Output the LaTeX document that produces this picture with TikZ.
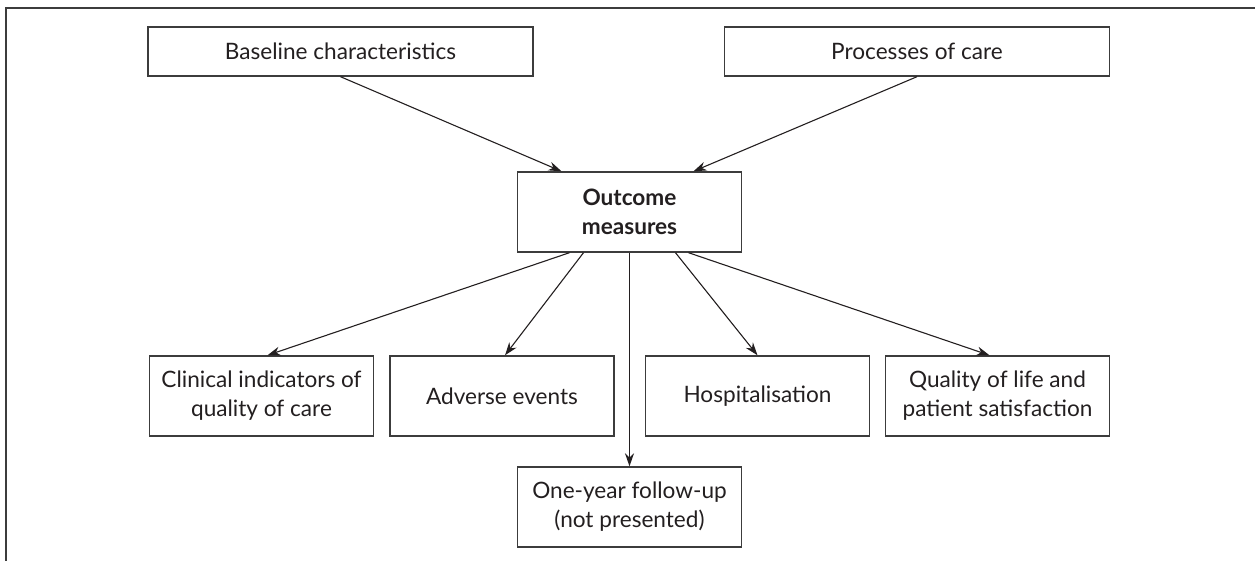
\documentclass[tikz,border=0pt]{standalone}
\usepackage{fontspec}
\setmainfont{Lato}
\usepackage{tikz}
\usetikzlibrary{arrows.meta}
\definecolor{ink}{RGB}{35, 31, 32}
\definecolor{frame}{RGB}{60, 60, 60}

\begin{document}
\begin{tikzpicture}[x=0.5pt, y=-0.5pt,
    box/.style={draw=frame, line width=0.7pt, text=ink, align=center,
        inner sep=0pt, font=\fontsize{11.3}{14.5}\selectfont},
    wide/.style={box, minimum width=192.5pt, minimum height=24.5pt},
    tall/.style={box, minimum width=112pt, minimum height=40pt},
    link/.style={ink, line width=0.55pt, -{Stealth[length=6.5pt, width=4.5pt]}}]
    \useasboundingbox (0,0) rectangle (1255,561);
    % Frame, open at the right and bottom
    \draw[frame, line width=1pt] (6,561) -- (6,8) -- (1255,8);

    % Inputs
    \node[wide] (base) at (340.5,51.5) {Baseline characteristics};
    \node[wide] (proc) at (917,51.5) {Processes of care};

    % Centre box
    \node[tall] (outcome) at (629.5,212) {\textbf{Outcome}\\\textbf{measures}};

    % Outcome groups
    \node[tall] (clin) at (261.5,396) {Clinical indicators of\\quality of care};
    \node[tall] (adv) at (502,396) {Adverse events};
    \node[tall] (hosp) at (757.5,396) {Hospitalisation};
    \node[tall] (qual) at (997.5,396) {Quality of life and\\patient satisfaction};
    \node[tall] (follow) at (629.5,507) {One-year follow-up\\(not presented)};

    % Arrows into the centre
    \draw[link] (base.south) -- ([xshift=-34pt]outcome.north);
    \draw[link] (proc.south) -- ([xshift=32pt]outcome.north);

    % Arrows out of the centre
    \draw[link] ([xshift=-30pt]outcome.south) -- ([xshift=3pt]clin.north);
    \draw[link] ([xshift=-23pt]outcome.south) -- ([xshift=1.5pt]adv.north);
    \draw[link] (outcome.south) -- (follow.north);
    \draw[link] ([xshift=23pt]outcome.south) -- (hosp.north);
    \draw[link] ([xshift=29.5pt]outcome.south) -- ([xshift=-4pt]qual.north);
\end{tikzpicture}
\end{document}
